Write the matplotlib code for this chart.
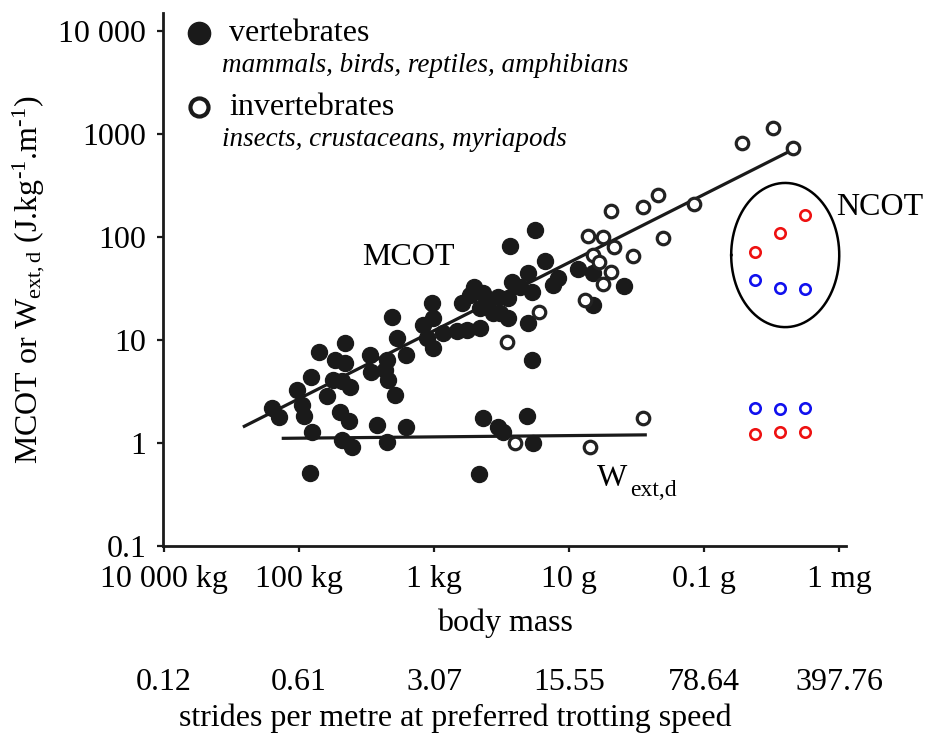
import numpy as np
import matplotlib

matplotlib.use("Agg")
import matplotlib.pyplot as plt
from matplotlib.transforms import blended_transform_factory

plt.rcParams["font.family"] = ["Liberation Serif", "DejaVu Serif"]
plt.rcParams["mathtext.fontset"] = "custom"
plt.rcParams["mathtext.rm"] = "Liberation Serif"
plt.rcParams["mathtext.it"] = "Liberation Serif:italic"

# body mass in kg, cost in J.kg-1.m-1
vert_mcot_mass = [251, 198, 107, 90, 84, 66, 51, 38, 29, 21, 21, 23, 17.5, 31, 8.9, 8.6,
                  5.0, 4.2, 3.5, 4.8, 3.8, 2.6, 1.46, 1.07, 1.04, 1.04, 1.27, 0.74, 0.385,
                  0.293, 0.188, 0.324, 0.208, 0.164, 0.113, 0.255, 0.105, 0.134, 0.080,
                  0.080, 0.053, 0.070, 0.035, 0.040, 0.023, 0.075, 0.032, 0.0173, 0.0146,
                  0.040, 0.035, 0.0074, 0.0044, 0.0044, 0.00153, 0.456, 5.3, 0.208]
vert_mcot_cost = [2.19, 1.79, 3.27, 2.34, 1.83, 4.37, 7.65, 2.86, 6.4, 9.35, 5.98, 4.0, 3.5,
                  4.09, 7.15, 4.89, 6.4, 16.7, 10.5, 4.09, 2.92, 7.15, 14.0, 22.9, 16.4, 8.4,
                  10.5, 11.7, 22.9, 27.4, 28.6, 12.5, 13.1, 22.9, 26.1, 32.7, 18.3, 18.3,
                  16.4, 25.6, 32.7, 36.6, 29.2, 44.7, 58.5, 81.8, 117, 34.2, 40, 14.6, 6.4,
                  48.9, 44.7, 21.9, 33.4, 12.2, 5.1, 20.5]

vert_wext_mass = [69, 64, 25, 18, 23, 16.4, 7.0, 5.0, 2.6, 0.188, 0.113, 0.095, 0.042, 0.034, 0.215]
vert_wext_cost = [0.51, 1.28, 2.0, 1.64, 1.07, 0.91, 1.50, 1.02, 1.43, 1.75, 1.43, 1.28, 1.83, 1.0, 0.50]

invert_mcot_mass = [2.8e-5, 9.5e-6, 4.8e-6, 1.41e-4, 4.8e-4, 8.0e-4, 2.4e-3, 4.05e-4, 1.13e-3,
                    5.2e-3, 3.2e-3, 2.2e-3, 4.4e-3, 3.6e-3, 2.4e-3, 3.2e-3, 5.8e-3, 0.028, 0.083]
invert_mcot_cost = [818, 1143, 731, 209, 256, 195, 179, 98, 65, 102, 100, 80, 67, 57, 46, 35,
                    24.5, 18.7, 9.6]

invert_wext_mass = [8.0e-4, 0.063, 4.9e-3]
invert_wext_cost = [1.75, 1.0, 0.91]

ncot_mass = [1.75e-5, 7.5e-6, 3.2e-6]
ncot_red = [72, 110, 164]
ncot_blue = [38, 32, 31]
low_blue = [2.17, 2.12, 2.17]
low_red = [1.22, 1.29, 1.29]

mcot_fit_mass = [676, 4.97e-6]
mcot_fit_cost = [1.43, 700]
wext_fit_mass = [180, 7.06e-4]
wext_fit_cost = [1.11, 1.20]

# NCOT ellipse, in decades
ncot_centre = (-5.2, 1.825)
ncot_radii = (0.80, 0.70)

mass_ticks = [1e4, 1e2, 1, 1e-2, 1e-4, 1e-6]
mass_labels = ["10 000 kg", "100 kg", "1 kg", "10 g", "0.1 g", "1 mg"]
stride_labels = ["0.12", "0.61", "3.07", "15.55", "78.64", "397.76"]
cost_ticks = [0.1, 1, 10, 100, 1000, 10000]
cost_labels = ["0.1", "1", "10", "100", "1000", "10 000"]

W, H = 926, 736
fig = plt.figure(figsize=(W / 100, H / 100), dpi=100)
ax = fig.add_axes([163 / W, 1 - 546 / H, 683 / W, 533 / H])


def fpos(x, y):
    return x / W, 1 - y / H


ax.set_xscale("log")
ax.set_yscale("log")
ax.set_xlim(1.03e4, 10 ** -6.1)
ax.set_ylim(0.1, 10 ** 4.175)

ink = "#1a1a1a"
ax.plot(mcot_fit_mass, mcot_fit_cost, color=ink, lw=2.3, zorder=2, solid_capstyle="butt")
ax.plot(wext_fit_mass, wext_fit_cost, color=ink, lw=2.3, zorder=2, solid_capstyle="butt")

dot = dict(ls="none", marker="o", ms=11.5, mfc=ink, mec=ink, zorder=3)
ax.plot(vert_mcot_mass, vert_mcot_cost, **dot)
ax.plot(vert_wext_mass, vert_wext_cost, **dot)
ring = dict(ls="none", marker="o", ms=9, mfc="white", mec="#222222", mew=2.3, zorder=4)
ax.plot(invert_mcot_mass, invert_mcot_cost, **ring)
ax.plot(invert_wext_mass, invert_wext_cost, **ring)

small = dict(ls="none", marker="o", ms=7.5, mfc="white", mew=1.9, zorder=4)
ax.plot(ncot_mass, ncot_red, mec="#ee1111", **small)
ax.plot(ncot_mass, ncot_blue, mec="#1111ee", **small)
ax.plot(ncot_mass, low_blue, mec="#1111ee", **small)
ax.plot(ncot_mass, low_red, mec="#ee1111", **small)

t = np.linspace(0, 2 * np.pi, 200)
ax.plot(10 ** (ncot_centre[0] + ncot_radii[0] * np.cos(t)),
        10 ** (ncot_centre[1] + ncot_radii[1] * np.sin(t)), color="black", lw=1.8)

for side in ("top", "right"):
    ax.spines[side].set_visible(False)
for side in ("left", "bottom"):
    ax.spines[side].set_linewidth(2.0)
    ax.spines[side].set_color(ink)

ax.set_xticks(mass_ticks, mass_labels)
ax.set_yticks(cost_ticks, cost_labels)
ax.minorticks_off()
ax.tick_params(direction="out", length=4, width=1.6, color=ink, labelsize=23)
ax.tick_params(axis="y", pad=8)
ax.tick_params(axis="x", pad=10)

ax.set_xlabel("body mass", fontsize=23, labelpad=10)
ax.set_ylabel(r"MCOT or W$_{\rm ext,d}$ (J.kg$^{\text{-}1}$.m$^{\text{-}1}$)",
              fontsize=23, labelpad=8)

strides_tr = blended_transform_factory(ax.transData, fig.transFigure)
for m, s in zip(mass_ticks, stride_labels):
    ax.text(m, 1 - 683 / H, s, transform=strides_tr, ha="center", va="center", fontsize=23)
fig.text(*fpos(455, 718), "strides per metre at preferred trotting speed",
         ha="center", va="center", fontsize=23)

ax.text(10 ** 1.07, 10 ** 1.728, "MCOT", fontsize=23, ha="left", va="baseline")
ax.text(10 ** -5.95, 10 ** 2.214, "NCOT", fontsize=23, ha="left", va="baseline")
fig.text(*fpos(597, 486), "W", fontsize=23, ha="left", va="baseline")
fig.text(*fpos(630, 496), "ext,d", fontsize=17, ha="left", va="baseline")

# legend
fig.add_artist(plt.Line2D([199 / W], [1 - 33 / H], marker="o", ms=16, mfc=ink, mec=ink, ls="none"))
fig.add_artist(plt.Line2D([199 / W], [1 - 107 / H], marker="o", ms=13, mfc="white",
                          mec=ink, mew=3, ls="none"))
fig.text(*fpos(229, 41), "vertebrates", fontsize=23, va="baseline")
fig.text(*fpos(222, 72), "mammals, birds, reptiles, amphibians", fontsize=19.5, style="italic",
         va="baseline")
fig.text(*fpos(229, 115), "invertebrates", fontsize=23, va="baseline")
fig.text(*fpos(222, 146), "insects, crustaceans, myriapods", fontsize=19.5, style="italic",
         va="baseline")

fig.savefig("out.png", dpi=100)
